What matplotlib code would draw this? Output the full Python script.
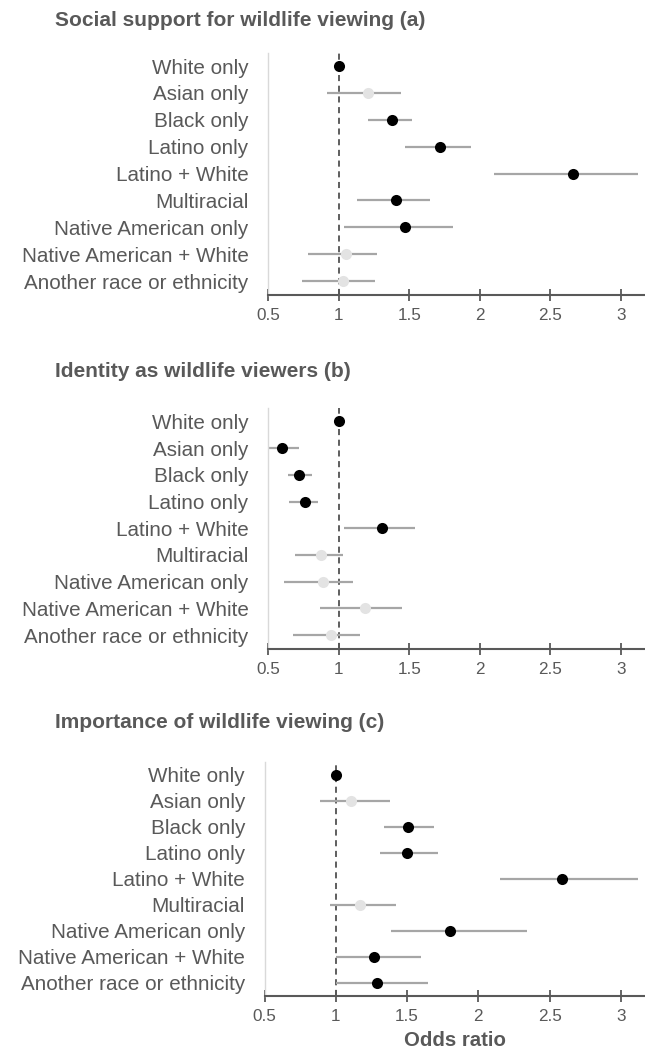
import matplotlib
matplotlib.use("Agg")
import matplotlib.pyplot as plt

plt.rcParams['font.family'] = ['Liberation Sans', 'DejaVu Sans']

categories = ["White only", "Asian only", "Black only", "Latino only", "Latino + White",
              "Multiracial", "Native American only", "Native American + White",
              "Another race or ethnicity"]

titles = ["Social support for wildlife viewing (a)",
          "Identity as wildlife viewers (b)",
          "Importance of wildlife viewing (c)"]

# panel (a)
or_a = [1.00, 1.21, 1.38, 1.72, 2.66, 1.41, 1.47, 1.055, 1.03]
lo_a = [None, 0.92, 1.21, 1.47, 2.10, 1.13, 1.04, 0.78, 0.74]
hi_a = [None, 1.44, 1.52, 1.94, 3.12, 1.65, 1.81, 1.27, 1.26]
sig_a = [True, False, True, True, True, True, True, False, False]

# panel (b)
or_b = [1.00, 0.60, 0.72, 0.76, 1.31, 0.875, 0.89, 1.19, 0.945]
lo_b = [None, 0.50, 0.64, 0.65, 1.04, 0.69, 0.61, 0.87, 0.68]
hi_b = [None, 0.72, 0.81, 0.855, 1.54, 1.03, 1.10, 1.45, 1.15]
sig_b = [True, True, True, True, True, False, False, False, False]

# panel (c)
or_c = [1.00, 1.11, 1.51, 1.50, 2.59, 1.17, 1.80, 1.265, 1.29]
lo_c = [None, 0.89, 1.34, 1.31, 2.15, 0.96, 1.39, 1.00, 1.00]
hi_c = [None, 1.38, 1.69, 1.72, 3.12, 1.42, 2.34, 1.60, 1.645]
sig_c = [True, False, True, True, True, False, True, True, True]

xticks = [0.5, 1, 1.5, 2, 2.5, 3]
xticklabels = ["0.5", "1", "1.5", "2", "2.5", "3"]

W, H = 645, 1053
fig = plt.figure(figsize=(W / 100, H / 100), dpi=100)

TXT = "#595959"
panels = [
    (or_a, lo_a, hi_a, sig_a, (268, 52.7, 295), 20),
    (or_b, lo_b, hi_b, sig_b, (268, 408, 649), 372),
    (or_c, lo_c, hi_c, sig_c, (264.5, 762, 996), 723),
]

for i, (vals, lo, hi, sig, (lx, ty, by), title_y) in enumerate(panels):
    ax = fig.add_axes([lx / W, 1 - by / H, 1 - lx / W, (by - ty) / H])
    ys = list(range(len(categories)))
    ax.axvline(1, color="#333333", lw=1.1, ls=(0, (4, 3)), zorder=1)
    for y, v, l, h, s in zip(ys, vals, lo, hi, sig):
        if l is not None:
            ax.plot([l, h], [y, y], color="#a6a6a6", lw=1.6, zorder=2, solid_capstyle="butt")
        ax.plot([v], [y], marker="o", ms=8, color="black" if s else "#e3e3e3",
                markeredgewidth=0, linestyle="none", zorder=3)
    ax.set_xlim(0.5, 3.17)
    ax.set_ylim(8.52, -0.5)
    ax.set_yticks(ys)
    ax.set_yticklabels(categories, fontsize=14.9, color=TXT)
    ax.tick_params(axis="y", length=0, pad=14)
    ax.set_xticks(xticks)
    ax.set_xticklabels(xticklabels, fontsize=12.3, color=TXT)
    ax.tick_params(axis="x", direction="inout", length=8, width=1.3, color=TXT, pad=5.5)
    for sp in ["top", "right"]:
        ax.spines[sp].set_visible(False)
    ax.spines["left"].set_color("#d9d9d9")
    ax.spines["left"].set_linewidth(1.0)
    ax.spines["bottom"].set_color(TXT)
    ax.spines["bottom"].set_linewidth(1.5)
    ax.set_facecolor("none")
    fig.text(55 / W, 1 - title_y / H, titles[i], fontsize=15, fontweight="bold",
             color=TXT, ha="left", va="center")
    if i == 2:
        ax.set_xlabel("Odds ratio", fontsize=14.7, fontweight="bold", color=TXT, labelpad=5)

fig.savefig("out.png", dpi=100)
